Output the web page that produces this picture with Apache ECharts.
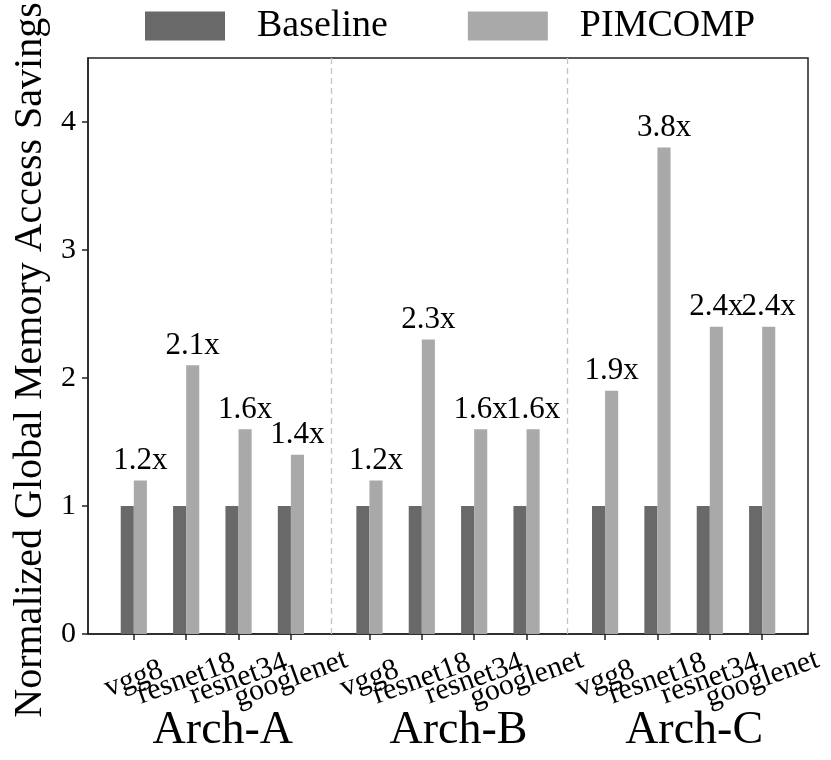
<!DOCTYPE html>
<html lang="en">
<head>
  <meta charset="UTF-8">
  <title>Global Memory Access Savings</title>
  <script src="https://cdn.jsdelivr.net/npm/echarts@6/dist/echarts.min.js"></script>
  <style>
    html, body { margin: 0; padding: 0; background: #fff; }
    #main { width: 831px; height: 760px; }
  </style>
</head>
<body>
  <div id="main"></div>
  <script type="text/javascript">
    // data
    var categories = ['vgg8', 'resnet18', 'resnet34', 'googlenet',
                      'vgg8', 'resnet18', 'resnet34', 'googlenet',
                      'vgg8', 'resnet18', 'resnet34', 'googlenet'];
    var positions = [0, 1, 2, 3, 4.5, 5.5, 6.5, 7.5, 9, 10, 11, 12];
    var baseline = [1, 1, 1, 1, 1, 1, 1, 1, 1, 1, 1, 1];
    var pimcomp = [1.2, 2.1, 1.6, 1.4, 1.2, 2.3, 1.6, 1.6, 1.9, 3.8, 2.4, 2.4];
    var archNames = ['Arch-A', 'Arch-B', 'Arch-C'];
    var archPos = [1.7, 6.2, 10.7];
    var separators = [3.77, 8.27];
    var yTicks = [0, 1, 2, 3, 4];
    var xMin = -0.875, xMax = 12.875;

    var font = 'Liberation Serif';

    var chart = echarts.init(document.getElementById('main'));

    function pairs(vals) {
      var out = [];
      for (var i = 0; i < vals.length; i++) {
        out.push([positions[i], vals[i]]);
      }
      return out;
    }

    // blank labels at both ends so echarts' min/max label check never drops a real one
    var labelValues = [xMin].concat(positions, [xMax]);

    var option = {
      animation: false,
      backgroundColor: '#fff',
      legend: {
        top: 2,
        left: 140,
        itemWidth: 80,
        itemHeight: 29,
        itemGap: 80,
        icon: 'rect',
        data: ['Baseline', 'PIMCOMP'],
        textStyle: {
          fontFamily: font,
          fontSize: 38,
          color: '#000',
          padding: [0, 0, 0, 27]
        }
      },
      grid: {
        left: 88,
        right: 23,
        top: 58,
        bottom: 126,
        outerBoundsMode: 'none',
        show: true,
        borderColor: '#222',
        borderWidth: 1.5
      },
      xAxis: [
        {
          type: 'value',
          min: xMin,
          max: xMax,
          splitLine: { show: false },
          axisLine: { show: true, onZero: false, lineStyle: { color: '#222', width: 1.5 } },
          axisTick: {
            show: true,
            length: 6,
            customValues: positions,
            lineStyle: { color: '#222', width: 1.5 }
          },
          axisLabel: {
            customValues: labelValues,
            showMinLabel: false,
            showMaxLabel: false,
            hideOverlap: false,
            rotate: 20,
            margin: 45,
            align: 'center',
            verticalAlign: 'middle',
            fontFamily: font,
            fontSize: 30,
            color: '#000',
            formatter: function (v) {
              var i = positions.indexOf(v);
              return i >= 0 ? categories[i] : '';
            }
          }
        },
        {
          type: 'value',
          position: 'bottom',
          min: xMin,
          max: xMax,
          splitLine: { show: false },
          axisLine: { show: false },
          axisTick: { show: false },
          axisLabel: {
            customValues: archPos,
            showMinLabel: true,
            showMaxLabel: true,
            margin: 74,
            verticalAlign: 'top',
            fontFamily: font,
            fontSize: 46,
            color: '#000',
            formatter: function (v) {
              var i = archPos.indexOf(v);
              return i >= 0 ? archNames[i] : '';
            }
          }
        }
      ],
      yAxis: {
        type: 'value',
        min: 0,
        max: 4.5,
        name: 'Normalized Global Memory Access Savings',
        nameLocation: 'middle',
        nameGap: 22,
        nameTextStyle: {
          fontFamily: font,
          fontSize: 40,
          color: '#000',
          padding: [0, 28, 0, 0]
        },
        splitLine: { show: false },
        axisLine: { show: true, onZero: false, lineStyle: { color: '#222', width: 1.5 } },
        axisTick: {
          show: true,
          length: 6,
          customValues: yTicks,
          lineStyle: { color: '#222', width: 1.5 }
        },
        axisLabel: {
          customValues: yTicks,
          margin: 12,
          fontFamily: font,
          fontSize: 30,
          color: '#000'
        }
      },
      series: [
        {
          name: 'Baseline',
          type: 'bar',
          xAxisIndex: 0,
          data: pairs(baseline),
          barWidth: '25%',
          barGap: '0%',
          itemStyle: { color: '#696969' }
        },
        {
          name: 'PIMCOMP',
          type: 'bar',
          xAxisIndex: 0,
          data: pairs(pimcomp),
          barWidth: '25%',
          barGap: '0%',
          itemStyle: { color: '#a9a9a9' },
          label: {
            show: true,
            position: 'top',
            distance: 4,
            fontFamily: font,
            fontSize: 31,
            color: '#000',
            formatter: function (p) {
              return p.value[1].toFixed(1) + 'x';
            }
          }
        },
        {
          // holder for the dashed group separators (kept off the bars so no bar offset)
          name: 'sep',
          type: 'line',
          xAxisIndex: 0,
          data: [],
          markLine: {
            silent: true,
            symbol: 'none',
            label: { show: false },
            lineStyle: { color: '#c4c4c4', type: [6, 4], width: 1.3 },
            data: separators.map(function (s) { return { xAxis: s }; })
          }
        }
      ]
    };

    chart.setOption(option);
  </script>
</body>
</html>
